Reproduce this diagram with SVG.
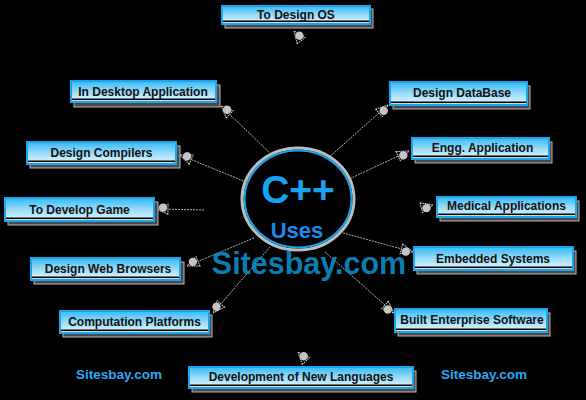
<svg xmlns="http://www.w3.org/2000/svg" width="586" height="400" viewBox="0 0 586 400">
<defs>
<linearGradient id="g" x1="0" y1="0" x2="0" y2="1">
<stop offset="0" stop-color="#36B9F4"/>
<stop offset="0.5" stop-color="#98DBFA"/>
<stop offset="1" stop-color="#E8F8FF"/>
</linearGradient>
<marker id="ah" viewBox="0 0 14 12" refX="13" refY="6" markerWidth="14" markerHeight="12" markerUnits="userSpaceOnUse" orient="auto">
<path d="M1,1 L13,6 L1,11 Z" fill="#000" stroke="#d8d8d8" stroke-width="1" stroke-dasharray="1.5 0.8"/>
<circle cx="6" cy="7.5" r="4.2" fill="#c4c4c4"/>
</marker>
<style>
.sh{fill:#4a4a4a;stroke:#b8b8b8;stroke-width:1}
.bx{fill:url(#g);stroke:#1AA6EE;stroke-width:2}
.ul{fill:#000}
.t{font-family:"Liberation Sans",Arial,sans-serif;font-weight:bold;font-size:12px;fill:#111;text-anchor:middle}
.c{stroke:#b0b0b0;stroke-width:1;stroke-dasharray:2 1;fill:none;marker-end:url(#ah)}
.c0{stroke:#000;stroke-opacity:0;fill:none;marker-end:url(#ah)}
.wm{font-family:"Liberation Sans",Arial,sans-serif;font-weight:bold;font-size:13.5px;fill:#2AA8F0}
</style>
</defs>
<rect width="586" height="400" fill="#000"/>

<g id="connectors">
<path class="c0" d="M303,43 L294,31"/>
<path class="c" d="M271,154 L221,106"/>
<path class="c" d="M246,182 L180,155"/>
<path class="c" d="M204,210 L156,209"/>
<path class="c" d="M254,238 L187,266"/>
<path class="c" d="M270,247 L213,313"/>
<path class="c0" d="M306,361 L298,352"/>
<path class="c" d="M328,158 L388,105"/>
<path class="c" d="M347,180 L409,151"/>
<path class="c0" d="M420,208 L433,205"/>
<path class="c" d="M343,233 L413,252"/>
<path class="c" d="M325,252 L394,313"/>
</g>

<g id="center">
<ellipse cx="298" cy="199" rx="56" ry="51" fill="#000" stroke="#bdbdbd" stroke-width="3"/>
<ellipse cx="298" cy="199" rx="53.5" ry="48.5" fill="#000" stroke="#1AA6EE" stroke-width="2"/>
<text x="298" y="203" text-anchor="middle" font-family="Liberation Sans, Arial, sans-serif" font-weight="bold" font-size="39" fill="#18A2F2">C++</text>
<text x="297" y="238" text-anchor="middle" font-family="Liberation Sans, Arial, sans-serif" font-weight="bold" font-size="22" fill="#1A8CEA">Uses</text>
</g>

<g id="n1"><rect class="sh" x="225" y="9" width="148" height="19"/><rect class="bx" x="222" y="6" width="148" height="18"/><rect class="ul" x="223" y="20.5" width="146" height="1.6"/><text class="t" x="296" y="19">To Design OS</text></g>
<g id="n2"><rect class="sh" x="74" y="85" width="146" height="22"/><rect class="bx" x="71" y="81" width="145" height="21"/><rect class="ul" x="72" y="98.5" width="143" height="1.6"/><text class="t" x="143" y="96">In Desktop Application</text></g>
<g id="n3"><rect class="sh" x="30" y="146" width="150" height="22"/><rect class="bx" x="27" y="142" width="149" height="22"/><rect class="ul" x="28" y="160.5" width="147" height="1.6"/><text class="t" x="101.5" y="157">Design Compilers</text></g>
<g id="n4"><rect class="sh" x="8" y="202" width="150" height="23"/><rect class="bx" x="5" y="198" width="149" height="23"/><rect class="ul" x="6" y="217.5" width="147" height="1.6"/><text class="t" x="79.5" y="214">To Develop Game</text></g>
<g id="n5"><rect class="sh" x="34" y="262" width="150" height="22"/><rect class="bx" x="31" y="258" width="149" height="22"/><rect class="ul" x="32" y="276.5" width="147" height="1.6"/><text class="t" x="108" y="273">Design Web Browsers</text></g>
<g id="n6"><rect class="sh" x="63" y="315" width="149" height="22"/><rect class="bx" x="60" y="311" width="149" height="22"/><rect class="ul" x="61" y="329.5" width="147" height="1.6"/><text class="t" x="134.5" y="326">Computation Platforms</text></g>
<g id="n7"><rect class="sh" x="192" y="371" width="224" height="21"/><rect class="bx" x="189" y="367" width="224" height="21"/><rect class="ul" x="190" y="384.5" width="222" height="1.6"/><text class="t" x="301" y="381">Development of New Languages</text></g>
<g id="n8"><rect class="sh" x="393" y="86" width="137" height="23"/><rect class="bx" x="390" y="82" width="137" height="23"/><rect class="ul" x="391" y="101.5" width="135" height="1.6"/><text class="t" x="462" y="97">Design DataBase</text></g>
<g id="n9"><rect class="sh" x="415" y="142" width="137" height="21"/><rect class="bx" x="412" y="138" width="137" height="21"/><rect class="ul" x="413" y="155.5" width="135" height="1.6"/><text class="t" x="482.5" y="152">Engg. Application</text></g>
<g id="n10"><rect class="sh" x="440" y="201" width="139" height="20"/><rect class="bx" x="437" y="197" width="139" height="20"/><rect class="ul" x="438" y="213.5" width="137" height="1.6"/><text class="t" x="506.5" y="210">Medical Applications</text></g>
<g id="n11"><rect class="sh" x="417" y="251" width="159" height="23"/><rect class="bx" x="414" y="247" width="159" height="23"/><rect class="ul" x="415" y="266.5" width="157" height="1.6"/><text class="t" x="493" y="263">Embedded Systems</text></g>
<g id="n12"><rect class="sh" x="398" y="313" width="152" height="23"/><rect class="bx" x="395" y="309" width="152" height="23"/><rect class="ul" x="396" y="328.5" width="150" height="1.6"/><text class="t" x="472" y="324">Built Enterprise Software</text></g>

<text x="309" y="274" text-anchor="middle" font-family="Liberation Sans, Arial, sans-serif" font-weight="bold" font-size="30.5" fill="#0A90CC" fill-opacity="0.88">Sitesbay.com</text>
<text class="wm" x="76" y="379">Sitesbay.com</text>
<text class="wm" x="441" y="379">Sitesbay.com</text>
</svg>
